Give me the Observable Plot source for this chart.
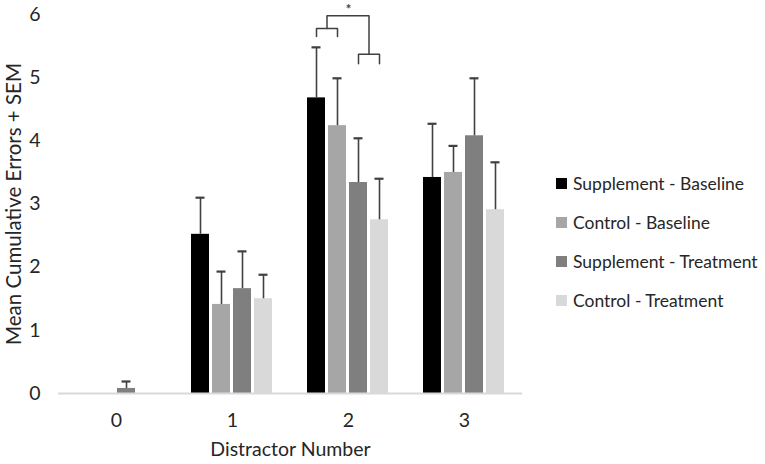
<!DOCTYPE html>
<html>
<head>
<meta charset="utf-8">
<script src="https://cdn.jsdelivr.net/npm/d3@7"></script>
<script src="https://cdn.jsdelivr.net/npm/@observablehq/plot@0.6"></script>
<style>
  body { margin: 0; background: #fff; font-family: Lato, sans-serif; }
  #wrap { position: relative; width: 765px; height: 464px; overflow: hidden; }
  #chart { position: absolute; left: 0; top: 0; }
  #legend { position: absolute; left: 556px; top: 164px; }
  .item { display: flex; align-items: center; height: 39px; font-size: 17.5px; color: #262626; white-space: nowrap; }
  .sw { width: 11px; height: 11px; margin-right: 6px; flex: none; }
</style>
</head>
<body>
<div id="wrap"><div id="chart"></div><div id="legend"></div></div>
<script>
// ---- data ----
const groups = ["0", "1", "2", "3"];
const conditions = ["Supplement - Baseline", "Control - Baseline", "Supplement - Treatment", "Control - Treatment"];
const colors = ["#000000", "#a6a6a6", "#7f7f7f", "#d9d9d9"];
const yTicks = [0, 1, 2, 3, 4, 5, 6];

const suppBaselineMean = [0, 2.52, 4.68, 3.42];
const ctrlBaselineMean = [0, 1.41, 4.24, 3.50];
const suppTreatmentMean = [0.08, 1.66, 3.34, 4.08];
const ctrlTreatmentMean = [0, 1.50, 2.75, 2.91];

const suppBaselineSem = [0, 0.58, 0.80, 0.85];
const ctrlBaselineSem = [0, 0.52, 0.75, 0.42];
const suppTreatmentSem = [0.11, 0.59, 0.70, 0.91];
const ctrlTreatmentSem = [0, 0.38, 0.65, 0.75];

// significance brackets (group "2")
const sigGroup = "2";
const pairLevels = [5.78, 5.37];   // top of each small bracket
const pairLegs = [5.65, 5.22];     // bottom of each small bracket's legs
const bridgeLevel = 5.98;          // top of the bridging bracket
const starLevel = 6.16;
const starText = "*";

// ---- tables ----
const means = [suppBaselineMean, ctrlBaselineMean, suppTreatmentMean, ctrlTreatmentMean];
const sems = [suppBaselineSem, ctrlBaselineSem, suppTreatmentSem, ctrlTreatmentSem];
const data = groups.flatMap((g, i) =>
  conditions.map((c, j) => ({group: g, condition: c, mean: means[j][i], sem: sems[j][i]})));
const withErr = data.filter(d => d.sem > 0);

const pairA = [conditions[0], conditions[1]];
const pairB = [conditions[2], conditions[3]];
const bracket1 = [
  {group: sigGroup, condition: pairA[0], y: pairLegs[0]},
  {group: sigGroup, condition: pairA[0], y: pairLevels[0]},
  {group: sigGroup, condition: pairA[1], y: pairLevels[0]},
  {group: sigGroup, condition: pairA[1], y: pairLegs[0]}
];
const bracket2 = [
  {group: sigGroup, condition: pairB[0], y: pairLegs[1]},
  {group: sigGroup, condition: pairB[0], y: pairLevels[1]},
  {group: sigGroup, condition: pairB[1], y: pairLevels[1]},
  {group: sigGroup, condition: pairB[1], y: pairLegs[1]}
];
const bridge = [
  {group: sigGroup, a: pairA[0], b: pairA[1], y: pairLevels[0]},
  {group: sigGroup, a: pairA[0], b: pairA[1], y: bridgeLevel},
  {group: sigGroup, a: pairB[0], b: pairB[1], y: bridgeLevel},
  {group: sigGroup, a: pairB[0], b: pairB[1], y: pairLevels[1]}
];
const star = [{group: sigGroup, y: starLevel, text: starText}];

const ink = "#404040";
const textColor = "#262626";

const chart = Plot.plot({
  width: 540,
  height: 464,
  marginLeft: 58,
  marginRight: 18,
  marginTop: 14,
  marginBottom: 71,
  style: {fontFamily: "Lato, sans-serif", color: textColor, background: "#fff", overflow: "visible"},
  fx: {domain: groups, padding: 0},
  x: {domain: conditions, paddingInner: 0.14, paddingOuter: 0.83, axis: null},
  y: {domain: [0, 6]},
  color: {domain: conditions, range: colors},
  marks: [
    Plot.axisY({ticks: yTicks, tickFormat: d3.format("d"), tickSize: 0, tickPadding: 18, fontSize: 19.5, label: null}),
    Plot.axisY({ticks: [], tickSize: 0, fontSize: 20.5, label: "Mean Cumulative Errors + SEM", labelAnchor: "center", labelArrow: "none", labelOffset: 52}),
    Plot.axisFx({anchor: "bottom", tickSize: 0, tickPadding: 20, fontSize: 19.5, label: "Distractor Number", labelAnchor: "center", labelArrow: "none", labelOffset: 62}),
    Plot.barY(data, {fx: "group", x: "condition", y: "mean", fill: "condition"}),
    Plot.ruleY([0], {stroke: "#d9d9d9", strokeWidth: 2}),
    Plot.ruleX(withErr, {fx: "group", x: "condition", y1: "mean", y2: d => d.mean + d.sem, stroke: ink, strokeWidth: 1.6}),
    Plot.tickY(withErr, {fx: "group", x: "condition", y: d => d.mean + d.sem, stroke: ink, strokeWidth: 2.2, insetLeft: 4.5, insetRight: 4.5}),
    Plot.line(bracket1, {fx: "group", x: "condition", y: "y", stroke: ink, strokeWidth: 1.5}),
    Plot.line(bracket2, {fx: "group", x: "condition", y: "y", stroke: ink, strokeWidth: 1.5}),
    Plot.line(bridge, {
      fx: "group", x: "a", y: "y", stroke: ink, strokeWidth: 1.5,
      render(index, scales, values, dimensions, context, next) {
        const X = new Float64Array(bridge.length);
        for (const i of index) X[i] = (scales.x(bridge[i].a) + scales.x(bridge[i].b)) / 2;
        return next(index, scales, {...values, x: X}, dimensions, context);
      }
    }),
    Plot.text(star, {fx: "group", y: "y", text: "text", fontSize: 13, fontWeight: "bold", fill: ink, lineAnchor: "top"})
  ]
});
document.getElementById("chart").appendChild(chart);

const legend = d3.select("#legend");
conditions.forEach((c, j) => {
  const item = legend.append("div").attr("class", "item");
  item.append("div").attr("class", "sw").style("background", colors[j]);
  item.append("span").text(c);
});
</script>
</body>
</html>
